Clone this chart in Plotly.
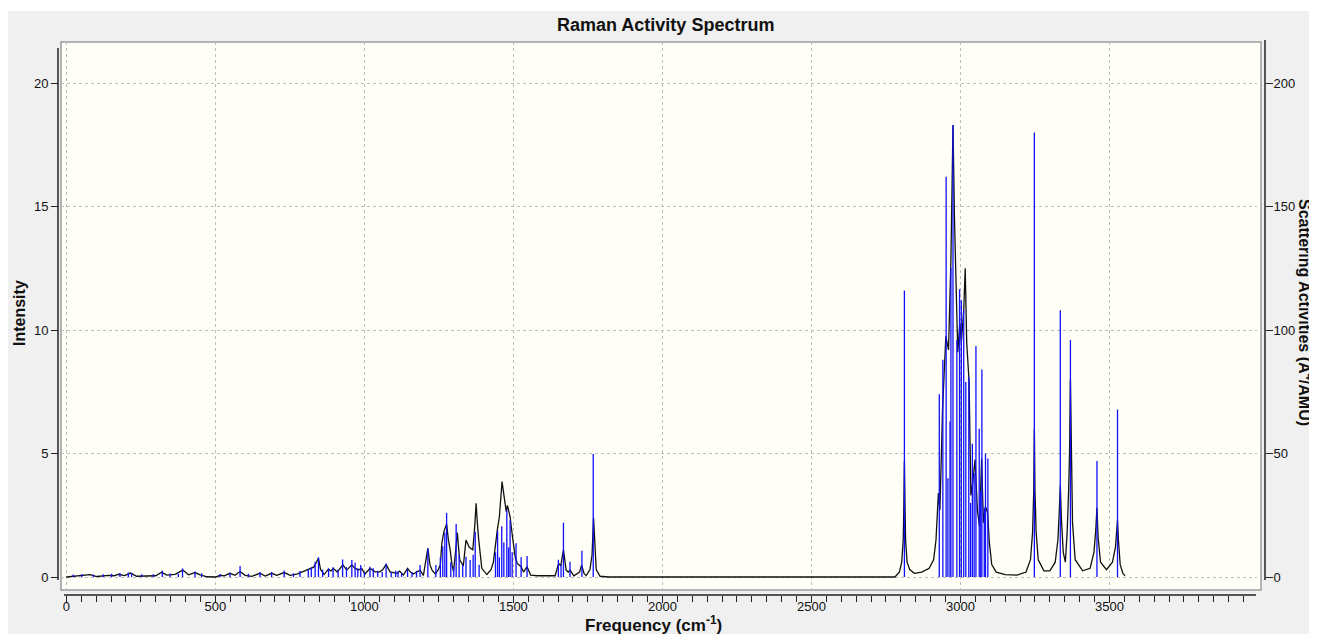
import plotly.graph_objects as go

# ---------------- data ----------------
stick_freq = [23, 52, 91, 124, 152, 180, 208, 219, 253, 292, 322, 348, 376, 390, 432, 454, 516, 549, 583, 611,
              650, 689, 731, 762, 784, 812, 822, 835, 846, 860, 880, 895, 912, 927, 940, 958, 969, 978, 988, 1000,
              1019, 1030, 1045, 1060, 1073, 1090, 1105, 1113, 1125, 1145, 1160, 1175, 1187, 1213, 1240, 1255, 1263,
              1270, 1276, 1290, 1300, 1308, 1318, 1330, 1341, 1355, 1365, 1372, 1385, 1440, 1447, 1453, 1461, 1468,
              1478, 1484, 1489, 1496, 1509, 1526, 1546, 1651, 1660, 1668, 1690, 1730, 1768,
              2812, 2929, 2941, 2952, 2958, 2965, 2968, 2975, 2988, 2997, 3003, 3011, 3018, 3028, 3034, 3040, 3046,
              3052, 3063, 3068, 3072, 3080, 3084, 3092, 3248, 3335, 3369, 3458, 3527]
stick_act = [1.0, 1.2, 1.0, 1.1, 1.3, 1.6, 1.8, 1.5, 1.1, 1.1, 2.6, 1.4, 1.3, 3.5, 2.2, 1.5, 1.2, 1.7, 4.5, 1.3,
             2.0, 2.0, 2.6, 1.5, 2.4, 3.0, 4.0, 6.2, 8.0, 3.0, 3.5, 4.0, 3.0, 7.1, 4.0, 6.9, 5.8, 3.5, 4.9, 2.0,
             4.2, 3.5, 2.5, 2.0, 5.5, 2.0, 2.5, 2.2, 1.5, 3.1, 2.0, 2.5, 4.9, 11.5, 4.9, 8.0, 12.5,
             18.0, 26.0, 6.0, 4.0, 21.5, 9.0, 5.0, 8.2, 6.9, 9.0, 18.3, 5.0, 10.0, 18.7, 8.0, 20.6, 14.0,
             27.0, 12.0, 23.0, 10.0, 13.7, 8.0, 8.5, 7.0, 5.0, 22.0, 6.2, 10.6, 49.8,
             116, 74, 88, 162, 40, 63, 125, 183, 96, 116.5, 112, 108, 79, 81, 30, 54, 42,
             93.5, 60, 35, 84, 28, 50, 48, 180, 108, 96, 47, 67.8]

curve_freq = [0, 23, 46, 80, 102, 124, 142, 160, 175, 195, 216, 236, 260, 281, 300, 320, 337, 365, 391, 410,
              432, 449, 472, 500, 517, 530, 549, 566, 583, 600, 622, 650, 667, 689, 706, 731, 751, 774, 790, 806,
              820, 830, 840, 846, 853, 865, 879, 888, 896, 909, 928, 941, 958, 969, 980, 991, 1002, 1019, 1036, 1052,
              1062, 1073, 1086, 1098, 1109, 1118, 1131, 1145, 1155, 1164, 1175, 1187, 1198, 1206, 1213, 1220, 1227,
              1238, 1248, 1255, 1260, 1267, 1276, 1282, 1288, 1294, 1299, 1305, 1312, 1316, 1320, 1332, 1341, 1352,
              1364, 1370, 1375, 1379, 1383, 1394, 1411, 1425, 1433, 1446, 1453, 1462, 1469, 1476, 1480, 1489, 1497,
              1506, 1513, 1526, 1534, 1546, 1558, 1580, 1640, 1652, 1659, 1668, 1677, 1684, 1690, 1703, 1722, 1729,
              1737, 1744, 1757, 1764, 1769, 1774, 1778, 1791, 1820, 2780,
              2795, 2803, 2808, 2810, 2812, 2814, 2816, 2821, 2830, 2845, 2870, 2895, 2910, 2918, 2924, 2926, 2931,
              2940, 2951, 2960, 2968, 2975, 2980, 2986, 2991, 2998, 3003, 3011, 3016, 3021, 3029, 3035, 3041, 3049,
              3057, 3064, 3071, 3077, 3084, 3091, 3097, 3105, 3120, 3150, 3190, 3220, 3235, 3242, 3246, 3248, 3250,
              3254, 3261, 3280, 3300, 3318, 3327, 3331, 3335, 3339, 3345, 3352, 3358, 3363, 3366, 3369, 3372, 3376,
              3385, 3410, 3435, 3448, 3454, 3458, 3462, 3470, 3490, 3510, 3520, 3524, 3527, 3530, 3536, 3545, 3552]
curve_int = [0.0, 0.03, 0.04, 0.1, 0.02, 0.06, 0.07, 0.05, 0.11, 0.06, 0.16, 0.03, 0.04, 0.04, 0.05, 0.19, 0.08,
             0.11, 0.28, 0.09, 0.18, 0.09, 0.01, 0.0, 0.07, 0.05, 0.15, 0.07, 0.22, 0.07, 0.03, 0.15, 0.04, 0.15,
             0.07, 0.18, 0.07, 0.12, 0.2, 0.28, 0.32, 0.4, 0.62, 0.76, 0.3, 0.1, 0.31, 0.25, 0.35, 0.2, 0.49, 0.28,
             0.49, 0.35, 0.28, 0.35, 0.12, 0.35, 0.21, 0.21, 0.3, 0.51, 0.21, 0.18, 0.15, 0.24, 0.08, 0.35, 0.2,
             0.12, 0.2, 0.28, 0.06, 0.6, 1.16, 0.5, 0.28, 0.12, 0.3, 0.5, 1.36, 1.84, 2.15, 1.5, 1.1, 0.5, 0.23,
             0.9, 1.8, 1.2, 0.7, 0.45, 1.5, 1.2, 1.1, 2.0, 2.98, 2.2, 1.6, 0.35, 0.1, 0.3, 0.6, 1.9, 2.44, 3.86,
             3.25, 2.65, 2.9, 2.44, 1.63, 0.82, 0.55, 0.42, 0.2, 0.42, 0.08, 0.05, 0.05, 0.55, 0.45, 1.1, 0.28,
             0.2, 0.28, 0.05, 0.2, 0.48, 0.15, 0.05, 0.3, 0.9, 2.4, 0.9, 0.3, 0.03, 0.0, 0.0,
             0.2, 0.6, 1.5, 2.8, 4.7, 2.8, 1.5, 0.6, 0.3, 0.15, 0.2, 0.35, 0.7, 1.5, 2.8, 3.4, 2.7,
             6.8, 9.75, 9.2, 12.8, 18.3, 14.5, 10.8, 9.1, 10.3, 9.5, 10.8, 12.5, 9.5, 7.9, 3.3, 3.8, 4.75,
             2.7, 2.05, 4.8, 2.2, 2.85, 2.6, 1.4, 0.5, 0.2, 0.1, 0.08, 0.2, 0.7, 1.8, 3.5, 6.0, 3.5,
             1.8, 0.7, 0.25, 0.25, 0.6, 1.5, 2.5, 3.7, 2.3, 1.0, 0.6, 1.8, 3.5, 5.0, 8.0, 5.0, 2.2,
             0.7, 0.25, 0.35, 1.0, 1.9, 2.8, 1.6, 0.6, 0.3, 0.6, 1.2, 1.8, 2.3, 1.5, 0.5, 0.15, 0.05]

x_ticks = [0, 500, 1000, 1500, 2000, 2500, 3000, 3500]
left_ticks = [0, 5, 10, 15, 20]
right_ticks = [0, 50, 100, 150, 200]

title_text = "Raman Activity Spectrum"
x_title = "Frequency (cm<sup>-1</sup>)"
y_title = "Intensity"
y2_title = "Scattering Activities (A<sup>4</sup>/AMU)"

# ---------------- geometry ----------------
# The page body has an 8px margin, so the figure starts at page pixel (8, 8).
OFF = 8
W, H = 1317 - OFF, 634 - OFF
# plot area bounded by the axis lines, in page pixels
L, R, T, B = 58, 1265, 42, 595
PW, PH = R - L, B - T


def px(x):
    """page pixel x -> paper fraction"""
    return (x - L) / PW


def py(y):
    """page pixel y -> paper fraction"""
    return (B - y) / PH


# stick segments built from the data arrays
sx, sy = [], []
for f, a in zip(stick_freq, stick_act):
    sx += [f, f, None]
    sy += [0, a, None]

fig = go.Figure()
fig.add_trace(go.Scatter(x=sx, y=sy, mode="lines", yaxis="y2",
                         line=dict(color="#1010ff", width=1.3), hoverinfo="skip", showlegend=False))
fig.add_trace(go.Scatter(x=curve_freq, y=curve_int, mode="lines", yaxis="y",
                         line=dict(color="#111111", width=1.3), showlegend=False))

font_family = "Liberation Sans, Arial, sans-serif"
grid_color = "#bdbdbd"

fig.update_layout(
    width=W, height=H,
    margin=dict(l=L - OFF, r=(W + OFF) - R, t=T - OFF, b=(H + OFF) - B, pad=0),
    paper_bgcolor="white",
    plot_bgcolor="rgba(0,0,0,0)",
    font=dict(family=font_family, size=13, color="#111"),
    xaxis=dict(
        domain=[px(61), px(1257)], range=[-17.8, 3995],
        anchor="free", position=0,
        tickmode="array", tickvals=x_ticks,
        ticks="outside", ticklen=7, tickwidth=1, tickcolor="#222",
        ticklabelstandoff=-8,
        minor=dict(dtick=50, tick0=0, ticks="outside", ticklen=6, tickcolor="#222", showgrid=False),
        showgrid=True, gridcolor=grid_color, griddash="3px,3px", gridwidth=1,
        showline=False, zeroline=False,
        tickfont=dict(size=13, color="#111"),
    ),
    yaxis=dict(
        domain=[py(590), py(42)], range=[-0.526, 21.66],
        anchor="free", position=0,
        tickmode="array", tickvals=left_ticks,
        ticks="outside", ticklen=7, tickwidth=1, tickcolor="#222",
        showgrid=True, gridcolor=grid_color, griddash="3px,3px", gridwidth=1,
        showline=False, zeroline=False,
        tickfont=dict(size=13, color="#111"),
    ),
    yaxis2=dict(
        domain=[py(590), py(42)], range=[-5.26, 216.6],
        overlaying="y", side="right", anchor="free", position=1,
        tickmode="array", tickvals=right_ticks,
        ticks="outside", ticklen=7, tickwidth=1, tickcolor="#222",
        ticklabelstandoff=-2,
        showgrid=False, showline=False, zeroline=False,
        tickfont=dict(size=13, color="#111"),
    ),
    shapes=[
        # grey window background
        dict(type="rect", xref="paper", yref="paper", x0=px(8), x1=px(1330), y0=py(11), y1=py(650),
             fillcolor="#f0f0f0", line=dict(width=0), layer="below"),
        # cream plot frame
        dict(type="rect", xref="paper", yref="paper", x0=px(61), x1=px(1261), y0=py(590), y1=py(42),
             fillcolor="#fffff7", line=dict(color="#9a9a9a", width=1.5), layer="below"),
        # left axis line
        dict(type="line", xref="paper", yref="paper", x0=px(58), x1=px(58), y0=py(48), y1=py(580),
             line=dict(color="#222", width=1.5)),
        # right axis line
        dict(type="line", xref="paper", yref="paper", x0=px(1265), x1=px(1265), y0=py(40), y1=py(580),
             line=dict(color="#222", width=1.5)),
        # bottom axis line
        dict(type="line", xref="paper", yref="paper", x0=px(64), x1=px(1256), y0=py(595), y1=py(595),
             line=dict(color="#222", width=1.5)),
    ],
    annotations=[
        dict(text="<b>" + title_text + "</b>", xref="paper", yref="paper", x=px(665), y=py(25),
             showarrow=False, xanchor="center", yanchor="middle",
             font=dict(size=18, color="#111", family=font_family)),
        dict(text="<b>" + x_title + "</b>", xref="paper", yref="paper", x=px(653), y=py(624),
             showarrow=False, xanchor="center", yanchor="middle",
             font=dict(size=17, color="#111", family=font_family)),
        dict(text="<b>" + y_title + "</b>", xref="paper", yref="paper", x=px(19), y=py(313),
             showarrow=False, textangle=-90, xanchor="center", yanchor="middle",
             font=dict(size=16, color="#111", family=font_family)),
        dict(text="<b>" + y2_title + "</b>", xref="paper", yref="paper", x=px(1306), y=py(312),
             showarrow=False, textangle=90, xanchor="center", yanchor="middle",
             font=dict(size=16, color="#111", family=font_family)),
    ],
)

fig.write_html("out.html")
